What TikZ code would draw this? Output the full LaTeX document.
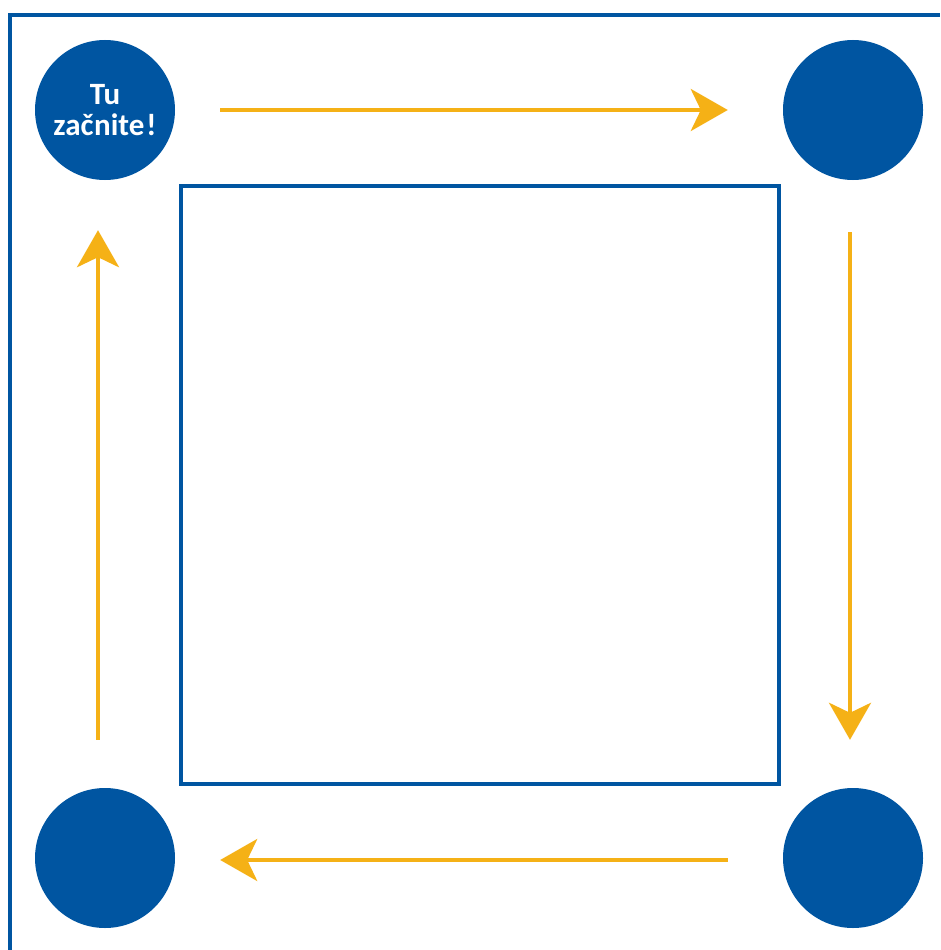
\documentclass[tikz,border=0pt]{standalone}
\usepackage{fontspec}
\setmainfont{Carlito}
\usepackage{tikz}
\usepackage{xcolor}
\usetikzlibrary{arrows.meta,positioning,calc}
\definecolor{stepblue}{HTML}{0055A1}
\definecolor{arrowgold}{HTML}{F5B116}
\tikzset{
  stopdot/.style={circle,fill=stepblue,draw=none,minimum size=140pt,
                  inner sep=0pt,align=center,text=white,
                  font=\fontsize{31}{31}\selectfont\bfseries},
  frameline/.style={draw=stepblue,line width=4pt},
  loopar/.style={-{Stealth[length=37pt,width=42pt,inset=10pt]},
                 line width=4pt,color=arrowgold}
}

\begin{document}
\begin{tikzpicture}[x=1pt,y=-1pt]
      \useasboundingbox (0,0) rectangle (940,950);

      % outer frame (cut at right and bottom)
      \draw[frameline] (10,950) -- (10,15) -- (940,15);

      % inner empty square
      \draw[frameline] (181,186) rectangle (779,784);

      % the four stops
      \node[stopdot] (start) at (105,110) {Tu\\zač\kern0.5pt nite\kern2pt!};
      \node[stopdot] (topright) at (853,110) {};
      \node[stopdot] (botright) at (853,858) {};
      \node[stopdot] (botleft) at (105,858) {};

      % clockwise arrows
      \draw[loopar,shorten <=45pt,shorten >=55pt] (start.east) -- (topright.west);
      \draw[loopar,shorten <=52pt,shorten >=48pt] ([xshift=-3pt]topright.south) -- ([xshift=-3pt]botright.north);
      \draw[loopar,shorten <=55pt,shorten >=45pt] ([yshift=-2pt]botright.west) -- ([yshift=-2pt]botleft.east);
      \draw[loopar,shorten <=48pt,shorten >=50pt] ([xshift=-7pt]botleft.north) -- ([xshift=-7pt]start.south);
    \end{tikzpicture}
\end{document}
